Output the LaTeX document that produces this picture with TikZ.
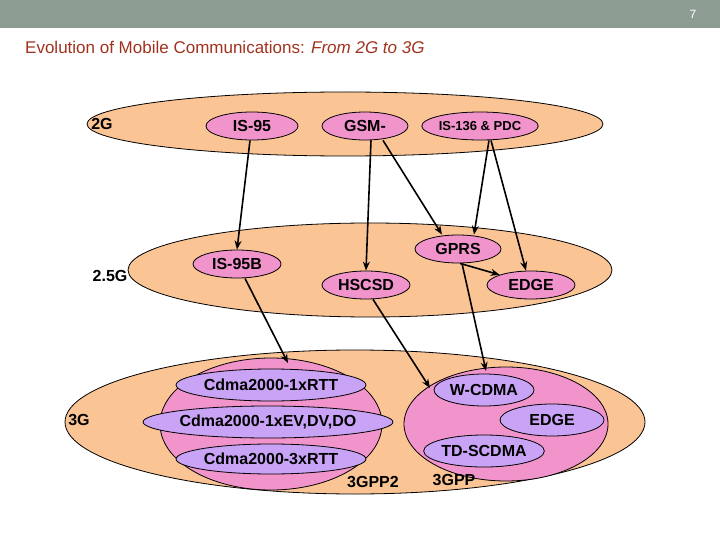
\documentclass[tikz,border=0pt]{standalone}
\usepackage{fontspec}
\setmainfont{Liberation Sans}
\usetikzlibrary{shapes.geometric,arrows.meta}
\definecolor{orng}{HTML}{FBC495}
\definecolor{pnk}{HTML}{F294CC}
\definecolor{purp}{HTML}{C9A3F5}
\definecolor{bar}{HTML}{8C9C92}
\definecolor{ttl}{HTML}{A0321E}
\begin{document}
\begin{tikzpicture}[x=1pt,y=-1pt,
  layer/.style={ellipse,draw=black,line width=0.8pt,fill=orng,inner sep=0pt},
  tech/.style={ellipse,draw=black,line width=0.8pt,fill=pnk,inner sep=0pt,font=\bfseries\fontsize{16}{16}\selectfont},
  grp/.style={ellipse,draw=black,line width=0.8pt,fill=pnk,inner sep=0pt},
  sub/.style={ellipse,draw=black,line width=0.8pt,fill=purp,inner sep=0pt,font=\bfseries\fontsize{16}{16}\selectfont},
  lbl/.style={font=\bfseries\fontsize{16}{16}\selectfont},
  arr/.style={-{Stealth[length=9pt,width=7pt]},line width=1.6pt}]
\useasboundingbox (0,0) rectangle (720,540);
\fill[bar] (0,0) rectangle (720,28);
\node[text=white,font=\fontsize{12}{12}\selectfont] (pg) at (693,14) {7};
\node[anchor=west,text=ttl,font=\fontsize{17}{17}\selectfont,inner sep=0pt] (title) at (25,47) {Evolution of Mobile Communications: \textit{From 2G to 3G}};
% layers
\node[layer,minimum width=516,minimum height=64] (L2) at (345,124) {};
\node[layer,minimum width=484,minimum height=94] (L25) at (370,270) {};
\node[layer,minimum width=580,minimum height=144] (L3) at (355,422) {};
\node[lbl] (t2) at (102,124) {2G};
\node[lbl] (t25) at (110,276) {2.5G};
\node[lbl] (t3) at (79,420) {3G};
% 2G
\node[tech,minimum width=92,minimum height=28] (is95) at (252,126) {IS-95};
\node[tech,minimum width=86,minimum height=28] (gsm) at (365,126) {GSM-};
\node[tech,minimum width=88,minimum height=28,font=\bfseries\fontsize{13}{13}\selectfont] (is136) at (480,126) {IS-136 \& PDC};
% 2.5G
\node[tech,minimum width=88,minimum height=28] (is95b) at (237,264) {IS-95B};
\node[tech,minimum width=88,minimum height=28] (hscsd) at (366,285) {HSCSD};
\node[tech,minimum width=86,minimum height=28] (gprs) at (458,249) {GPRS};
\node[tech,minimum width=88,minimum height=28] (edge) at (531,285) {EDGE};
% 3G
\node[grp,minimum width=222,minimum height=132] (g2) at (271,424) {};
\node[grp,minimum width=204,minimum height=114] (g1) at (506,424) {};
\node[sub,minimum width=176,minimum height=32] (c1) at (271,385) {Cdma2000-1xRTT};
\node[sub,minimum width=206,minimum height=32] (c2) at (268,422) {Cdma2000-1xEV,DV,DO};
\node[sub,minimum width=172,minimum height=30] (c3) at (271,459) {Cdma2000-3xRTT};
\node[sub,minimum width=100,minimum height=32] (wc) at (484,390) {W-CDMA};
\node[sub,minimum width=104,minimum height=32] (ed3) at (552,420) {EDGE};
\node[sub,minimum width=100,minimum height=32] (td) at (484,451) {TD-SCDMA};
\node[lbl] (p2) at (373,482) {3GPP2};
\node[lbl] (p1) at (454,480) {3GPP};
% arrow endpoints into 3G
\coordinate (e1) at (288,363);
\coordinate (e2) at (430,388);
\coordinate (e3) at (486,371);
\draw[arr] ([xshift=-2pt]is95.south) -- (is95b.north);
\draw[arr] ([xshift=6pt]gsm.south) -- (hscsd.north);
\draw[arr] ([xshift=18pt]gsm.south) -- ([xshift=-16pt]gprs.north);
\draw[arr] ([xshift=9pt]is136.south) -- ([xshift=16pt]gprs.north);
\draw[arr] ([xshift=11pt]is136.south) -- ([xshift=-5pt]edge.north);
\draw[arr] ([xshift=2pt]gprs.south) -- (edge.north west);
\draw[arr] ([xshift=8pt]is95b.south) -- (e1);
\draw[arr] ([xshift=7pt]hscsd.south) -- (e2);
\draw[arr] ([xshift=4pt]gprs.south) -- (e3);
\end{tikzpicture}
\end{document}
